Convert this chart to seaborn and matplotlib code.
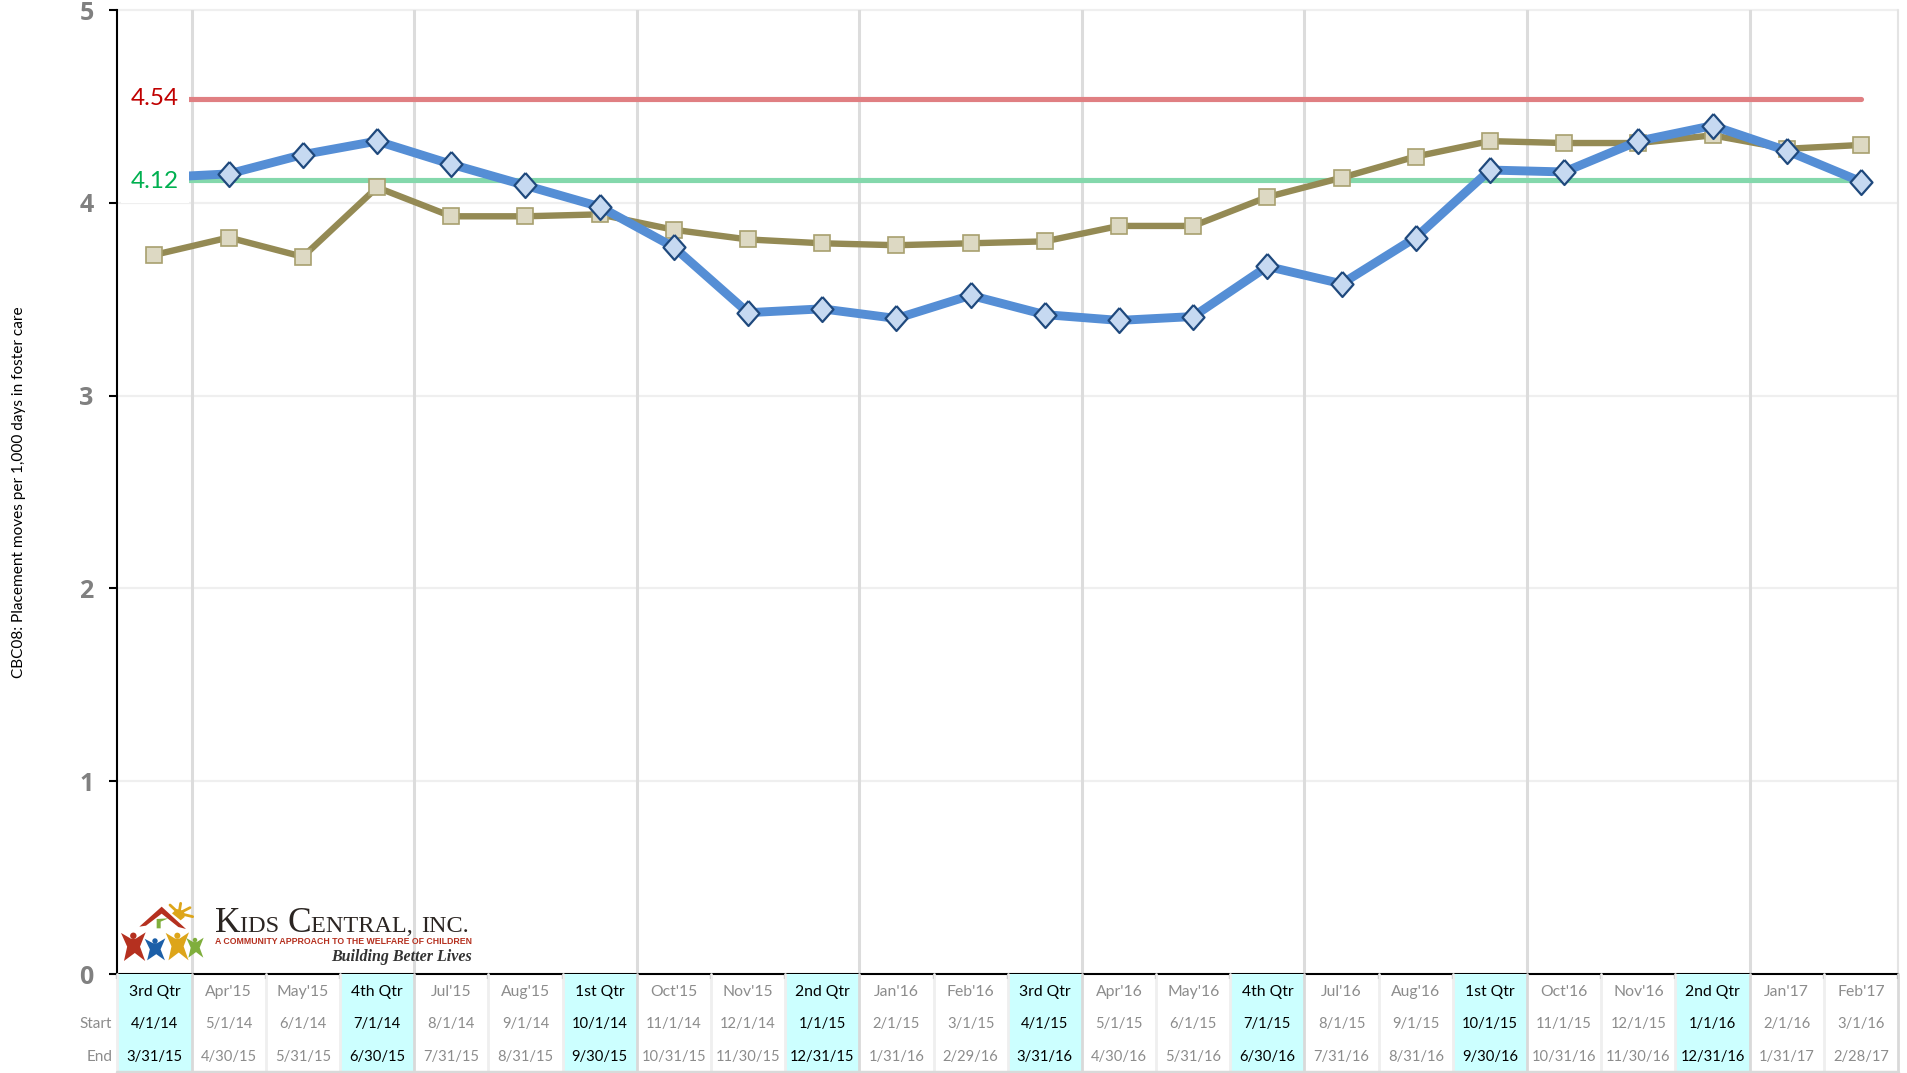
import numpy as np
import pandas as pd
import seaborn as sns
import matplotlib.pyplot as plt
from matplotlib.patches import Rectangle, Polygon, Circle
from matplotlib.transforms import blended_transform_factory

# data
periods = ["3rd Qtr", "Apr'15", "May'15", "4th Qtr", "Jul'15", "Aug'15", "1st Qtr", "Oct'15",
           "Nov'15", "2nd Qtr", "Jan'16", "Feb'16", "3rd Qtr", "Apr'16", "May'16", "4th Qtr",
           "Jul'16", "Aug'16", "1st Qtr", "Oct'16", "Nov'16", "2nd Qtr", "Jan'17", "Feb'17"]
start_dates = ["4/1/14", "5/1/14", "6/1/14", "7/1/14", "8/1/14", "9/1/14", "10/1/14", "11/1/14",
               "12/1/14", "1/1/15", "2/1/15", "3/1/15", "4/1/15", "5/1/15", "6/1/15", "7/1/15",
               "8/1/15", "9/1/15", "10/1/15", "11/1/15", "12/1/15", "1/1/16", "2/1/16", "3/1/16"]
end_dates = ["3/31/15", "4/30/15", "5/31/15", "6/30/15", "7/31/15", "8/31/15", "9/30/15", "10/31/15",
             "11/30/15", "12/31/15", "1/31/16", "2/29/16", "3/31/16", "4/30/16", "5/31/16", "6/30/16",
             "7/31/16", "8/31/16", "9/30/16", "10/31/16", "11/30/16", "12/31/16", "1/31/17", "2/28/17"]
blue_vals = [4.13, 4.15, 4.25, 4.32, 4.20, 4.09, 3.98, 3.77, 3.43, 3.45, 3.40, 3.52,
             3.42, 3.39, 3.41, 3.67, 3.58, 3.82, 4.17, 4.16, 4.32, 4.40, 4.27, 4.11]
brown_vals = [3.73, 3.82, 3.72, 4.08, 3.93, 3.93, 3.94, 3.86, 3.81, 3.79, 3.78, 3.79,
              3.80, 3.88, 3.88, 4.03, 4.13, 4.24, 4.32, 4.31, 4.31, 4.35, 4.28, 4.30]
red_level = 4.54
green_level = 4.12
y_ticks = [0, 1, 2, 3, 4, 5]

df = pd.DataFrame({"pos": np.arange(len(periods)), "blue": blue_vals, "brown": brown_vals,
                   "red": red_level, "green": green_level})

sns.set_theme(style="white")
plt.rcParams['font.family'] = ['Lato', 'DejaVu Sans']

W, H = 1908, 1073
fig = plt.figure(figsize=(W / 100, H / 100), dpi=100)
L, R, T, B, TB = 117.4, 1898, 10, 974, 1072
ax = fig.add_axes([L / W, 1 - B / H, (R - L) / W, (B - T) / H])
tb = fig.add_axes([L / W, 1 - TB / H, (R - L) / W, (TB - B) / H])

# grid
for v in y_ticks[1:]:
    ax.axhline(v, color="#EFEFEF", lw=1.6, zorder=1, clip_on=False)
for q in range(1, len(periods), 3):
    ax.axvline(q - 0.5, color="#DCDCDC", lw=2.2, zorder=1)
ax.axvline(len(periods) - 0.5, color="#E4E4E4", lw=1.5, zorder=1, clip_on=False)

sns.lineplot(data=df, x="pos", y="red", ax=ax, color="#E07F82", lw=3.7, zorder=2, solid_capstyle="round")
sns.lineplot(data=df, x="pos", y="green", ax=ax, color="#84D8AC", lw=3.7, zorder=2)
sns.lineplot(data=df, x="pos", y="brown", ax=ax, color="#948A54", lw=4.6, zorder=3, marker="s", ms=12,
             markerfacecolor="#DDD9C3", markeredgecolor="#A8A06E", markeredgewidth=1.2)
sns.lineplot(data=df, x="pos", y="blue", ax=ax, color="#558ED5", lw=6.4, zorder=4,
             marker=[(0, 1), (0.88, 0), (0, -1), (-0.88, 0), (0, 1)], ms=18,
             markerfacecolor="#C6D9F1", markeredgecolor="#1F497D", markeredgewidth=1.6)

# white label boxes hide the start of the lines
trans = blended_transform_factory(ax.transAxes, ax.transData)
box_w = (185 - L) / (R - L)
for lev, h, col, dy in [(red_level, 0.11, "#C00000", 0.0), (green_level, 0.12, "#00B050", -0.012)]:
    ax.add_patch(Rectangle((0.002, lev - h), box_w, 2 * h, transform=trans, fc="white", ec="none", zorder=5))
    ax.text((131 - L) / (R - L), lev + dy, f"{lev:.2f}", transform=trans, color=col, fontsize=17.5,
            ha="left", va="center", zorder=6)

ax.set_xlim(-0.5, len(periods) - 0.5)
ax.set_ylim(0, 5)
ax.set_yticks(y_ticks)
ax.set_xticks(np.arange(len(periods) + 1) - 0.5)
ax.set_xticklabels([])
ax.tick_params(axis="y", length=6, width=1.5, color="black", labelsize=18, labelcolor="#808080", pad=11, left=True)
ax.tick_params(axis="x", length=3.5, width=1.5, color="black", direction="out", bottom=True)
for lab in ax.get_yticklabels():
    lab.set_family(['Open Sans', 'DejaVu Sans'])
    lab.set_fontweight("bold")
for s in ["top", "right"]:
    ax.spines[s].set_visible(False)
for s in ["left", "bottom"]:
    ax.spines[s].set_color("black")
    ax.spines[s].set_linewidth(1.5)
    ax.spines[s].set_zorder(7)
ax.set_xlabel("")
ax.set_ylabel("CBC08: Placement moves per 1,000 days in foster care", fontsize=11.1, color="black")
ax.yaxis.set_label_coords((26 - L) / (R - L), 0.5)

# table under the axis
tb.set_xlim(-0.5, len(periods) - 0.5)
tb.set_ylim(3, 0)
tb.axis("off")
rows = [periods, start_dates, end_dates]
for i in range(len(periods)):
    quarter = "Qtr" in periods[i]
    if quarter:
        tb.add_patch(Rectangle((i - 0.5, 0), 1, 3, fc="#CCFFFF", ec="none", zorder=1))
    edge = "#D9D9D9" if i % 3 == 1 else "#EFEFEF"
    tb.plot([i - 0.5, i - 0.5], [0, 3], color=edge, lw=2, zorder=2, clip_on=False)
    for r, row in enumerate(rows):
        tb.text(i, r + 0.54, row[i], ha="center", va="center", fontsize=11.3 if r == 0 else 10.6,
                color="black" if quarter else "#8C8C8C", zorder=3)
tb.plot([len(periods) - 0.5] * 2, [0, 3], color="#D9D9D9", lw=2, clip_on=False)
tb.plot([-0.5, len(periods) - 0.5], [3, 3], color="#D9D9D9", lw=2.5, clip_on=False)
for r, lab in [(1, "Start"), (2, "End")]:
    tb.text(-0.57, r + 0.54, lab, ha="right", va="center", fontsize=11, color="#8C8C8C")

# logo icon, drawn roughly in its own overlay
lg = fig.add_axes([110 / W, 1 - 975 / H, 100 / W, 80 / H])
lg.set_xlim(0, 300)
lg.set_ylim(240, 0)
lg.axis("off")
lg.patch.set_alpha(0)


def person(cx, top, w, h, col):
    # small figure with raised arms
    pts = [(cx - w * 0.5, top + h * 0.02), (cx - w * 0.1, top + h * 0.22), (cx + w * 0.1, top + h * 0.22),
           (cx + w * 0.5, top), (cx + w * 0.27, top + h * 0.5),
           (cx + w * 0.48, top + h), (cx + w * 0.06, top + h * 0.72), (cx - w * 0.38, top + h),
           (cx - w * 0.25, top + h * 0.5)]
    lg.add_patch(Polygon(pts, fc=col, ec="none"))
    lg.add_patch(Circle((cx, top + h * 0.12), w * 0.13, fc=col, ec="none"))


lg.add_patch(Polygon([(88, 95), (155, 35), (228, 102), (205, 96), (155, 56), (108, 92)], fc="#B5301F", ec="none"))
lg.add_patch(Polygon([(140, 72), (175, 70), (152, 80), (152, 100), (140, 100)], fc="#7FAE3C", ec="none"))
lg.add_patch(Polygon([(186, 55), (200, 42), (222, 48), (224, 66), (212, 76)], fc="#DDA51A", ec="none"))
for a in [(180, 30), (212, 25), (240, 38), (248, 65)]:
    lg.plot([207, a[0]], [55, a[1]], color="#DDA51A", lw=2)
person(70, 112, 74, 86, "#B5301F")
person(135, 130, 62, 66, "#1C5FA8")
person(202, 112, 70, 84, "#DDA51A")
person(255, 128, 52, 60, "#7FAE3C")

# logo lettering
serif = ['Liberation Serif', 'DejaVu Serif']
x = 215
rend = fig.canvas.get_renderer()
for piece, size in [("K", 25.5), ("IDS ", 17.5), ("C", 25.5), ("ENTRAL, ", 17.5), ("INC.", 17.5)]:
    t = fig.text(x / W, 1 - 932 / H, piece, family=serif, fontsize=size, color="#2B2522", ha="left", va="baseline")
    # trailing spaces get dropped from the extent, so add a little by hand
    x += t.get_window_extent(rend).width + (2 if piece.endswith(" ") else 0)
fig.text(472 / W, 1 - 942 / H, "A COMMUNITY APPROACH TO THE WELFARE OF CHILDREN", fontsize=6.3, color="#B5301F",
         fontweight="bold", ha="right", va="center", family=['Liberation Sans', 'DejaVu Sans'])
fig.text(472 / W, 1 - 957 / H, "Building Better Lives", fontsize=11.5, color="#333333", fontweight="bold",
         fontstyle="italic", ha="right", va="center", family=serif)

fig.savefig("out.png", dpi=100, facecolor="white")
